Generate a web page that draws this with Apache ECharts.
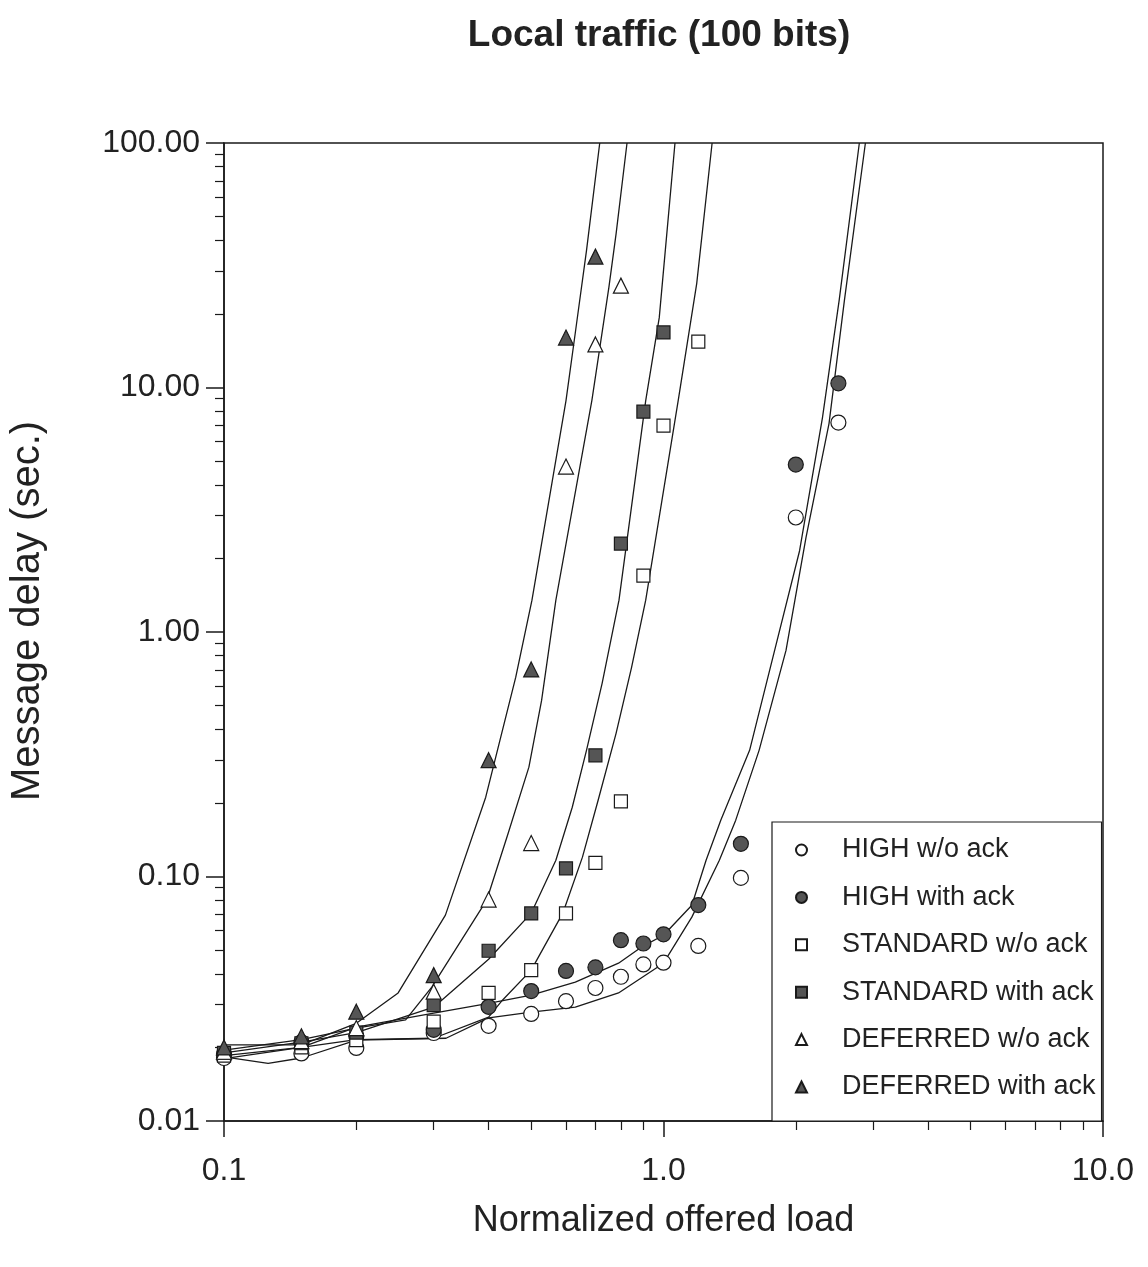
<!DOCTYPE html>
<html lang="en">
<head>
    <meta charset="utf-8">
    <title>Local traffic (100 bits)</title>
    <script src="https://cdn.jsdelivr.net/npm/echarts@6/dist/echarts.min.js"></script>
    <style>
        html, body, #main {
            width: 100%;
            height: 100%;
            margin: 0;
            padding: 0;
            overflow: hidden;
            background-color: #ffffff;
        }
    </style>
</head>
<body>
<div id="main" style="width: 1148px;height:1267px;"></div>
<script>

    // measured points: x = normalized offered load
    var loadHigh = [0.1, 0.15, 0.2, 0.3, 0.4, 0.5, 0.6, 0.7, 0.8, 0.9, 1.0, 1.2, 1.5, 2.0, 2.5];
    var loadStd = [0.1, 0.15, 0.2, 0.3, 0.4, 0.5, 0.6, 0.7, 0.8, 0.9, 1.0, 1.2];
    var loadStdAck = [0.1, 0.15, 0.2, 0.3, 0.4, 0.5, 0.6, 0.7, 0.8, 0.9, 1.0];
    var loadDef = [0.1, 0.15, 0.2, 0.3, 0.4, 0.5, 0.6, 0.7, 0.8];
    var loadDefAck = [0.1, 0.15, 0.2, 0.3, 0.4, 0.5, 0.6, 0.7];

    var highNoAck = [0.0181, 0.0189, 0.0199, 0.0229, 0.0245, 0.0274, 0.0309, 0.0350, 0.0389, 0.0437, 0.0444, 0.0520, 0.0987, 2.94, 7.19];
    var highAck = [0.0188, 0.0210, 0.0222, 0.0236, 0.0293, 0.0340, 0.0411, 0.0425, 0.0549, 0.0532, 0.0580, 0.0764, 0.136, 4.84, 10.4];
    var stdNoAck = [0.0185, 0.0200, 0.0214, 0.0255, 0.0334, 0.0414, 0.0706, 0.1137, 0.203, 1.70, 6.99, 15.4];
    var stdAck = [0.0190, 0.0208, 0.0230, 0.0298, 0.0497, 0.0706, 0.108, 0.313, 2.30, 7.97, 16.8];
    var defNoAck = [0.0192, 0.0212, 0.0240, 0.0338, 0.0805, 0.137, 4.75, 15.0, 26.1];
    var defAck = [0.0200, 0.0222, 0.0280, 0.0395, 0.299, 0.703, 16.0, 34.3];

    // model curves, [load, delay]
    var curveHighNoAck = [[0.1, 0.0183], [0.126, 0.0172], [0.15, 0.0181], [0.2, 0.0214], [0.32, 0.0218], [0.4, 0.0264],
        [0.5, 0.0279], [0.63, 0.0292], [0.79, 0.0334], [1.0, 0.0442], [1.16, 0.0682], [1.34, 0.1166], [1.46, 0.170],
        [1.65, 0.328], [1.90, 0.841], [2.11, 2.44], [2.38, 7.12], [2.58, 22.7], [2.88, 100]];
    var curveHighAck = [[0.1, 0.0185], [0.15, 0.0200], [0.2, 0.0242], [0.3, 0.0276], [0.4, 0.0303], [0.5, 0.0327],
        [0.63, 0.0370], [0.79, 0.0442], [0.89, 0.0514], [1.0, 0.0575], [1.16, 0.0763], [1.25, 0.1166], [1.35, 0.170],
        [1.57, 0.328], [1.79, 0.841], [2.04, 2.15], [2.30, 7.53], [2.51, 22.7], [2.79, 100]];
    var curveStdNoAck = [[0.1, 0.0180], [0.15, 0.0200], [0.2, 0.0215], [0.3, 0.0218], [0.4, 0.0266], [0.43, 0.0312],
        [0.5, 0.0414], [0.59, 0.0708], [0.654, 0.12], [0.71, 0.205], [0.78, 0.385], [0.846, 0.717], [0.911, 1.35],
        [1.08, 8.84], [1.19, 26.6], [1.29, 100]];
    var curveStdAck = [[0.1, 0.0190], [0.15, 0.0210], [0.2, 0.0230], [0.3, 0.0292], [0.4, 0.0459], [0.5, 0.0708],
        [0.569, 0.1166], [0.62, 0.192], [0.668, 0.328], [0.725, 0.617], [0.792, 1.35], [0.911, 8.84], [0.978, 19.3],
        [1.062, 100]];
    var curveDefNoAck = [[0.1, 0.0195], [0.15, 0.0215], [0.2, 0.0240], [0.259, 0.0259], [0.297, 0.0353], [0.396, 0.080],
        [0.443, 0.150], [0.494, 0.280], [0.528, 0.525], [0.569, 1.35], [0.687, 8.84], [0.751, 25.6], [0.78, 42.5],
        [0.826, 100]];
    var curveDefAck = [[0.1, 0.0205], [0.15, 0.0205], [0.2, 0.0251], [0.249, 0.0334], [0.319, 0.0695], [0.394, 0.211],
        [0.461, 0.652], [0.502, 1.35], [0.6, 8.84], [0.631, 17.1], [0.668, 36.3], [0.716, 100]];

    // axis ticks
    var xMajorTicks = [0.1, 1, 10];
    var xMinorTicks = [0.2, 0.3, 0.4, 0.5, 0.6, 0.7, 0.8, 0.9, 2, 3, 4, 5, 6, 7, 8, 9];
    var yMajorTicks = [0.01, 0.1, 1, 10, 100];
    var yMinorTicks = [0.02, 0.03, 0.04, 0.05, 0.06, 0.07, 0.08, 0.09,
        0.2, 0.3, 0.4, 0.5, 0.6, 0.7, 0.8, 0.9,
        2, 3, 4, 5, 6, 7, 8, 9,
        20, 30, 40, 50, 60, 70, 80, 90];

    var seriesNames = ['HIGH w/o ack', 'HIGH with ack', 'STANDARD w/o ack', 'STANDARD with ack', 'DEFERRED w/o ack', 'DEFERRED with ack'];

    function zip(xs, ys) {
        var out = [];
        for (var i = 0; i < ys.length; i++) {
            out.push([xs[i], ys[i]]);
        }
        return out;
    }

    var FONT = '"Liberation Sans", Arial, sans-serif';
    var INK = '#1a1a1a';
    var FILL = '#555555';

    function curve(data) {
        return {
            type: 'line',
            data: data,
            showSymbol: false,
            smooth: false,
            silent: true,
            z: 2,
            lineStyle: {color: INK, width: 1.3}
        };
    }

    function marks(name, data, symbol, size, filled) {
        return {
            name: name,
            type: 'scatter',
            data: data,
            symbol: symbol,
            symbolSize: size,
            z: 3,
            itemStyle: {
                color: filled ? FILL : '#ffffff',
                borderColor: INK,
                borderWidth: 1.2,
                opacity: 1
            }
        };
    }

    var tickLine = {color: INK, width: 1.5};

    var dom = document.getElementById('main');
    var myChart = echarts.init(dom, null, {renderer: 'canvas'});
    var option = {
        backgroundColor: '#ffffff',
        animation: false,
        title: {
            text: 'Local traffic (100 bits)',
            left: 654,
            top: 12,
            textAlign: 'center',
            textStyle: {fontFamily: FONT, fontSize: 37, fontWeight: 'bold', color: '#222'}
        },
        legend: {
            orient: 'vertical',
            left: 772,
            top: 822,
            padding: [14, 6, 20, 23],
            itemWidth: 11,
            itemHeight: 11,
            itemGap: 19.4,
            borderColor: INK,
            borderWidth: 1.2,
            backgroundColor: '#ffffff',
            data: seriesNames,
            textStyle: {fontFamily: FONT, fontSize: 27, color: '#222', lineHeight: 28, padding: [0, 0, 0, 30]}
        },
        grid: {
            left: 224,
            right: 45,
            top: 143,
            bottom: 146,
            show: true,
            borderColor: INK,
            borderWidth: 1.5,
            backgroundColor: 'transparent'
        },
        xAxis: [
            {
                type: 'log',
                logBase: 10,
                min: 0.1,
                max: 10,
                position: 'bottom',
                name: 'Normalized offered load',
                nameLocation: 'middle',
                nameGap: 82,
                nameTextStyle: {fontFamily: FONT, fontSize: 36, color: '#222'},
                axisLine: {lineStyle: tickLine},
                axisTick: {customValues: xMajorTicks, length: 16, lineStyle: tickLine},
                axisLabel: {
                    customValues: xMajorTicks,
                    formatter: function (v) { return Number(v).toFixed(1); },
                    fontFamily: FONT, fontSize: 32, color: '#222', margin: 34
                },
                splitLine: {show: false}
            },
            {
                type: 'log',
                logBase: 10,
                min: 0.1,
                max: 10,
                position: 'bottom',
                axisLine: {show: false},
                axisTick: {customValues: xMinorTicks, length: 9, lineStyle: {color: INK, width: 1.2}},
                axisLabel: {show: false},
                splitLine: {show: false}
            }
        ],
        yAxis: [
            {
                type: 'log',
                logBase: 10,
                min: 0.01,
                max: 100,
                position: 'left',
                name: 'Message delay (sec.)',
                nameLocation: 'middle',
                nameRotate: 90,
                nameGap: 176,
                nameTextStyle: {fontFamily: FONT, fontSize: 40, color: '#222', padding: [0, 0, 0, 42]},
                axisLine: {lineStyle: tickLine},
                axisTick: {customValues: yMajorTicks, length: 18, lineStyle: tickLine},
                axisLabel: {
                    customValues: yMajorTicks,
                    formatter: function (v) { return Number(v).toFixed(2); },
                    fontFamily: FONT, fontSize: 32, color: '#222', margin: 24
                },
                splitLine: {show: false}
            },
            {
                type: 'log',
                logBase: 10,
                min: 0.01,
                max: 100,
                position: 'left',
                axisLine: {show: false},
                axisTick: {customValues: yMinorTicks, length: 9, lineStyle: {color: INK, width: 1.2}},
                axisLabel: {show: false},
                splitLine: {show: false}
            }
        ],
        series: [
            curve(curveHighNoAck),
            curve(curveHighAck),
            curve(curveStdNoAck),
            curve(curveStdAck),
            curve(curveDefNoAck),
            curve(curveDefAck),
            marks(seriesNames[0], zip(loadHigh, highNoAck), 'circle', 15, false),
            marks(seriesNames[1], zip(loadHigh, highAck), 'circle', 15, true),
            marks(seriesNames[2], zip(loadStd, stdNoAck), 'rect', 13, false),
            marks(seriesNames[3], zip(loadStdAck, stdAck), 'rect', 13, true),
            marks(seriesNames[4], zip(loadDef, defNoAck), 'triangle', 15, false),
            marks(seriesNames[5], zip(loadDefAck, defAck), 'triangle', 15, true)
        ]
    };
    myChart.setOption(option);

</script>
</body>
</html>
